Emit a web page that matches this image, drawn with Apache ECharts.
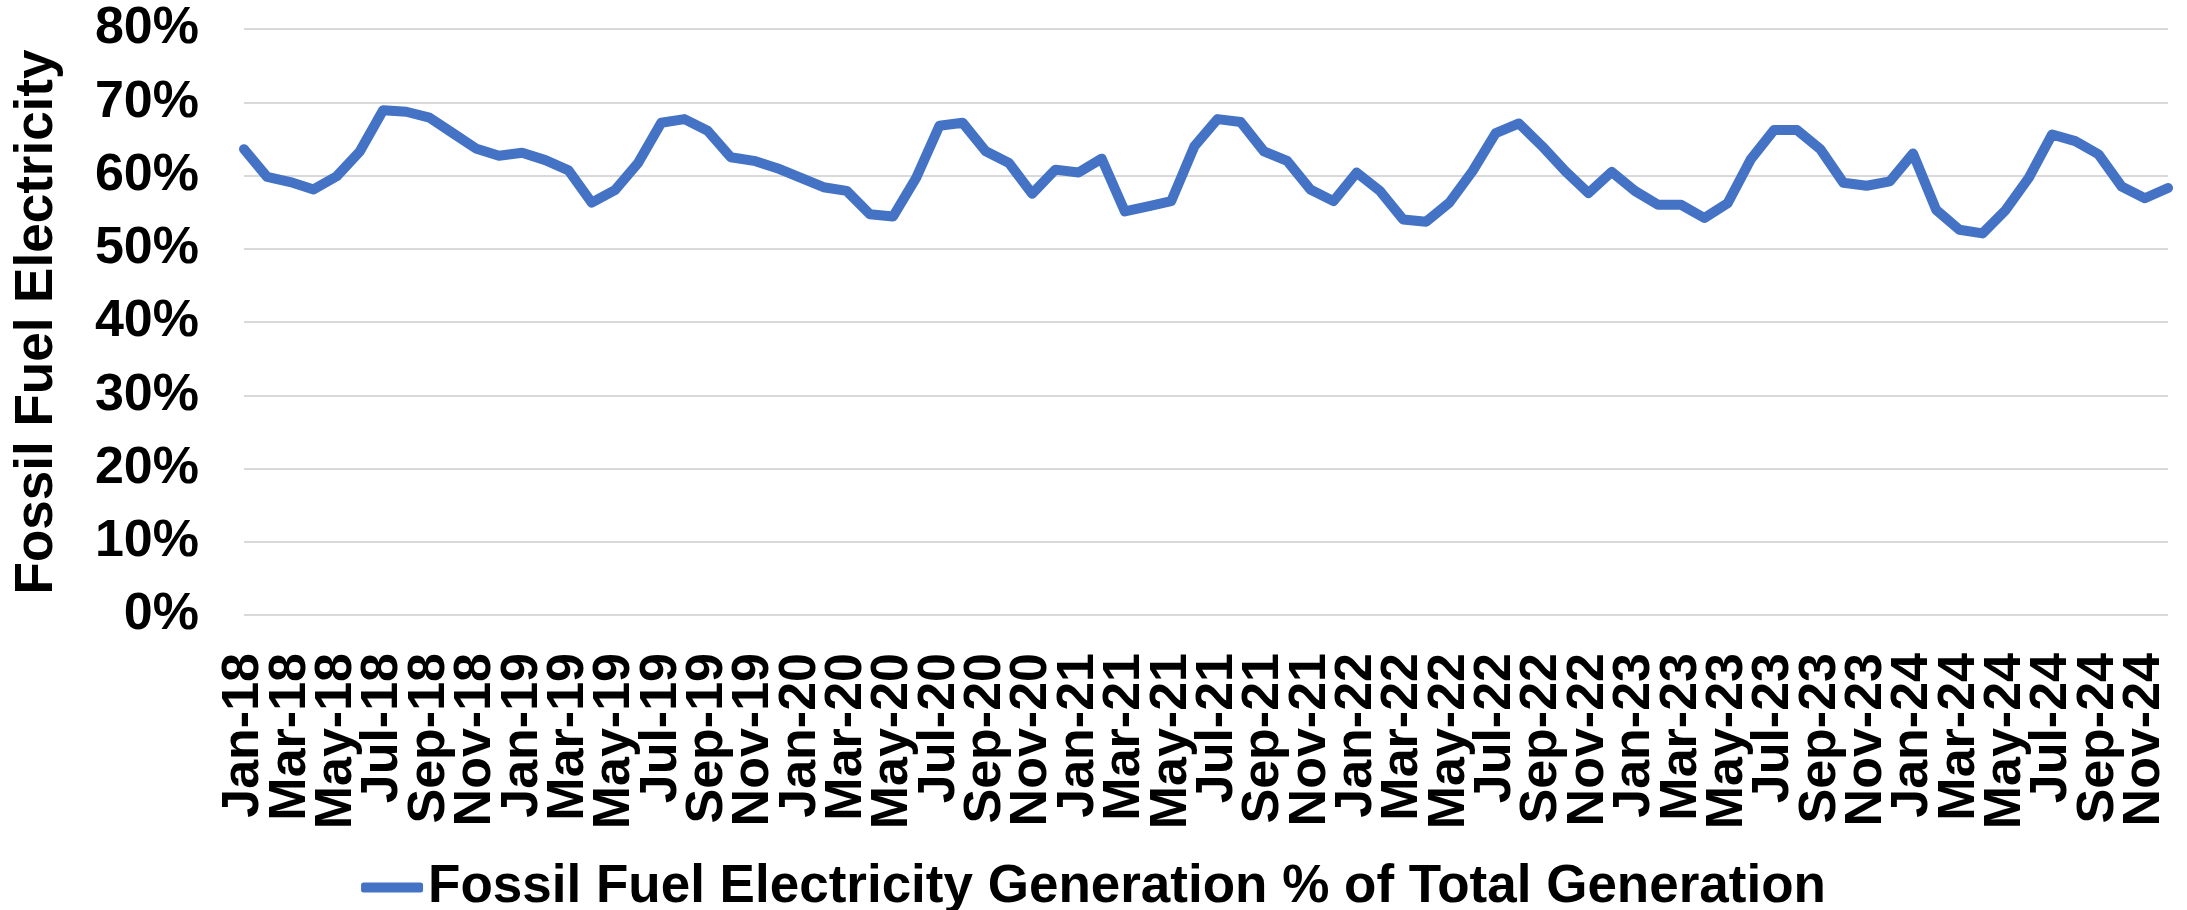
<!DOCTYPE html>
<html>
<head>
<meta charset="utf-8">
<script src="https://cdn.jsdelivr.net/npm/echarts@6/dist/echarts.min.js"></script>
<style>
  html, body { margin: 0; padding: 0; background: #ffffff; }
  #chart { width: 2187px; height: 910px; }
</style>
</head>
<body>
<div id="chart"></div>
<script>
// Monthly share of fossil-fuel generation in total electricity generation (%)
const monthNames = ['Jan', 'Feb', 'Mar', 'Apr', 'May', 'Jun', 'Jul', 'Aug', 'Sep', 'Oct', 'Nov', 'Dec'];
const years = ['18', '19', '20', '21', '22', '23', '24'];

const share2018 = [63.6, 59.8, 59.1, 58.1, 59.9, 63.3, 68.9, 68.7, 67.9, 65.8, 63.7, 62.7];
const share2019 = [63.1, 62.1, 60.7, 56.3, 58.0, 61.7, 67.2, 67.7, 66.1, 62.5, 62.0, 61.0];
const share2020 = [59.7, 58.4, 57.9, 54.7, 54.4, 59.7, 66.8, 67.2, 63.3, 61.7, 57.5, 60.8];
const share2021 = [60.4, 62.3, 55.1, 55.8, 56.5, 64.0, 67.7, 67.3, 63.3, 62.0, 58.1, 56.5];
const share2022 = [60.4, 57.9, 54.0, 53.7, 56.3, 60.6, 65.8, 67.1, 64.0, 60.6, 57.6, 60.5];
const share2023 = [57.9, 56.0, 56.0, 54.2, 56.2, 62.2, 66.2, 66.2, 63.6, 59.0, 58.6, 59.2];
const share2024 = [63.0, 55.3, 52.6, 52.1, 55.3, 59.7, 65.6, 64.7, 62.9, 58.5, 56.9, 58.3];

const yTicks = [0, 10, 20, 30, 40, 50, 60, 70, 80];

const seriesName = 'Fossil Fuel Electricity Generation % of Total Generation';
const yAxisTitle = 'Fossil Fuel Electricity';

const categories = [];
years.forEach(y => monthNames.forEach(m => categories.push(m + '-' + y)));

const values = [].concat(share2018, share2019, share2020, share2021, share2022, share2023, share2024);

const FONT = '"Liberation Sans", Arial, sans-serif';
const LINE_BLUE = '#4472C4';

const chart = echarts.init(document.getElementById('chart'), null, { renderer: 'canvas' });

chart.setOption({
  animation: false,
  backgroundColor: '#ffffff',
  grid: { left: 244, right: 19, top: 29, bottom: 295, containLabel: false },
  legend: {
    data: [seriesName],
    bottom: -9,
    left: 'center',
    icon: 'roundRect',
    itemWidth: 62,
    itemHeight: 10,
    textStyle: { fontFamily: FONT, fontWeight: 'bold', fontSize: 53, color: '#000000' }
  },
  xAxis: {
    type: 'category',
    data: categories,
    boundaryGap: false,
    axisLine: { show: false },
    axisTick: { show: false },
    axisLabel: {
      // label every second month (Jan, Mar, May, ...)
      interval: 0,
      formatter: (value, index) => (index % 2 === 0 ? value : ''),
      hideOverlap: false,
      rotate: 90,
      margin: 38,
      fontFamily: FONT,
      fontWeight: 'bold',
      fontSize: 52,
      color: '#000000'
    },
    splitLine: { show: false }
  },
  yAxis: {
    type: 'value',
    min: yTicks[0],
    max: yTicks[yTicks.length - 1],
    interval: 10,
    name: yAxisTitle,
    nameLocation: 'middle',
    nameGap: 180,
    nameRotate: 90,
    nameTextStyle: { fontFamily: FONT, fontWeight: 'bold', fontSize: 53, color: '#000000' },
    axisLine: { show: false },
    axisTick: { show: false },
    axisLabel: {
      formatter: '{value}%',
      margin: 45,
      fontFamily: FONT,
      fontWeight: 'bold',
      fontSize: 52,
      color: '#000000'
    },
    splitLine: { show: true, lineStyle: { color: '#d9d9d9', width: 2 } }
  },
  series: [{
    name: seriesName,
    type: 'line',
    data: values,
    showSymbol: false,
    symbol: 'none',
    lineStyle: { color: LINE_BLUE, width: 10, join: 'round', cap: 'round' },
    itemStyle: { color: LINE_BLUE }
  }]
});
</script>
</body>
</html>
